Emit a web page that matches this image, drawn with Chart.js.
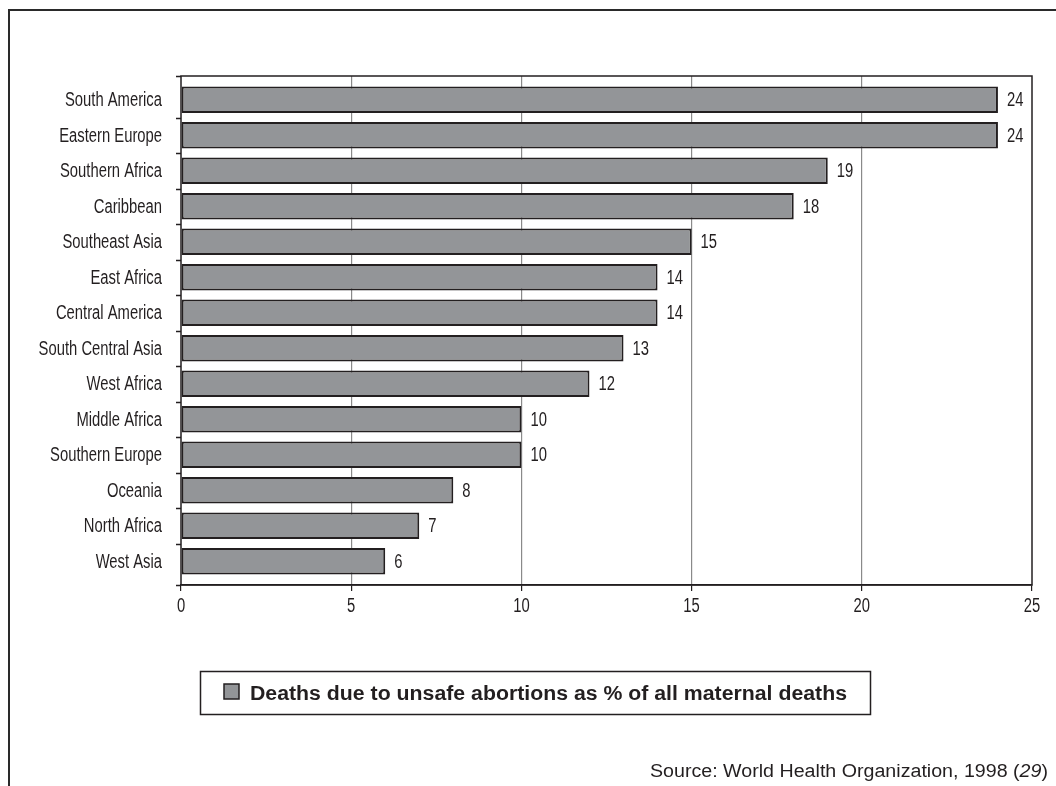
<!DOCTYPE html>
<html>
<head>
<meta charset="utf-8">
<script src="https://cdn.jsdelivr.net/npm/chart.js@4/dist/chart.umd.min.js"></script>
<style>
html,body{margin:0;padding:0;background:#fff;}
#wrap{position:relative;width:1056px;height:786px;}
canvas{display:block;}
</style>
</head>
<body>
<div id="wrap"><canvas id="c" width="1056" height="786"></canvas></div>
<script>
const categories = ["South America","Eastern Europe","Southern Africa","Caribbean","Southeast Asia","East Africa","Central America","South Central Asia","West Africa","Middle Africa","Southern Europe","Oceania","North Africa","West Asia"];
const values = [24,24,19,18,15,14,14,13,12,10,10,8,7,6];
const xTicks = [0,5,10,15,20,25];
const seriesLabel = "Deaths due to unsafe abortions as % of all maternal deaths";
const sourceText = "Source: World Health Organization, 1998 (";
const sourceRef = "29";

const DARK = '#231f20';
const FILL = '#939598';
const SANS = '"Liberation Sans", Arial, Helvetica, sans-serif';
const COND = 0.74; // horizontal squeeze to mimic a condensed face

function condText(ctx, text, x, y, size, align, sx, weight) {
  ctx.save();
  ctx.font = (weight ? weight + ' ' : '') + size + 'px ' + SANS;
  ctx.translate(x, y);
  ctx.scale(sx, 1);
  ctx.textAlign = align;
  ctx.fillText(text, 0, 0);
  ctx.restore();
}

const decor = {
  id: 'decor',
  afterLayout(chart) {
    // leave a little air above the first and below the last band, like the original
    const y = chart.scales.y;
    const a = chart.chartArea;
    y.top = a.top + 6;
    y.bottom = a.bottom - 6;
    y.height = y.bottom - y.top;
    y.configure();
  },
  beforeDraw(chart) {
    const ctx = chart.ctx;
    ctx.save();
    ctx.fillStyle = '#fff';
    ctx.fillRect(0, 0, chart.width, chart.height);
    ctx.strokeStyle = '#2a2a2a';
    ctx.lineWidth = 2;
    ctx.beginPath();
    ctx.moveTo(9, 786);
    ctx.lineTo(9, 10);
    ctx.lineTo(1056, 10);
    ctx.stroke();
    ctx.restore();
  },
  afterDraw(chart) {
    const ctx = chart.ctx;
    const a = chart.chartArea;
    const ys = chart.scales.y;
    const xs = chart.scales.x;
    ctx.save();
    // plot frame
    ctx.strokeStyle = DARK;
    ctx.lineWidth = 1.5;
    ctx.strokeRect(a.left, a.top, a.right - a.left, a.bottom - a.top);
    // y tick marks at band boundaries
    const marks = [a.top];
    for (let i = 0; i < categories.length - 1; i++) {
      marks.push((ys.getPixelForValue(i) + ys.getPixelForValue(i + 1)) / 2);
    }
    marks.push(a.bottom);
    ctx.beginPath();
    marks.forEach(m => { ctx.moveTo(a.left - 5, Math.round(m) + 0.5); ctx.lineTo(a.left, Math.round(m) + 0.5); });
    ctx.stroke();

    ctx.fillStyle = DARK;
    ctx.textBaseline = 'middle';
    // category labels
    categories.forEach((c, i) => {
      condText(ctx, c, a.left - 19, ys.getPixelForValue(i) + 1, 20, 'right', COND);
    });
    // x tick labels
    xTicks.forEach(v => {
      condText(ctx, String(v), xs.getPixelForValue(v), a.bottom + 21, 20, 'center', COND);
    });
    // value labels
    const meta = chart.getDatasetMeta(0);
    meta.data.forEach((bar, i) => {
      condText(ctx, String(values[i]), bar.x + 9, bar.y + 1, 20, 'left', COND);
    });

    // legend box
    ctx.strokeStyle = DARK;
    ctx.lineWidth = 1.5;
    ctx.strokeRect(200.5, 671.5, 670, 43);
    ctx.fillStyle = FILL;
    ctx.fillRect(224, 684, 15, 15);
    ctx.strokeRect(224, 684, 15, 15);
    ctx.fillStyle = DARK;
    ctx.textBaseline = 'alphabetic';
    ctx.font = 'bold 20px ' + SANS;
    const lw = ctx.measureText(seriesLabel).width;
    condText(ctx, seriesLabel, 250, 700, 20, 'left', 597 / lw, 'bold');

    // source line
    ctx.font = '18px ' + SANS;
    const w1 = ctx.measureText(sourceText).width;
    const w3 = ctx.measureText(')').width;
    ctx.font = 'italic 18px ' + SANS;
    const w2 = ctx.measureText(sourceRef).width;
    const total = w1 + w2 + w3;
    const sx = 398 / total;
    const x0 = 1048 - 398;
    condText(ctx, sourceText, x0, 777, 18, 'left', sx);
    condText(ctx, sourceRef, x0 + w1 * sx, 777, 18, 'left', sx, 'italic');
    condText(ctx, ')', x0 + (w1 + w2) * sx, 777, 18, 'left', sx);
    ctx.restore();
  }
};

new Chart(document.getElementById('c'), {
  type: 'bar',
  data: {
    labels: categories,
    datasets: [{
      label: seriesLabel,
      data: values,
      backgroundColor: FILL,
      borderColor: DARK,
      borderWidth: 2,
      borderSkipped: false,
      categoryPercentage: 0.74,
      barPercentage: 1.0
    }]
  },
  options: {
    indexAxis: 'y',
    responsive: false,
    animation: false,
    devicePixelRatio: 1,
    layout: { padding: { left: 0, right: 24, top: 76, bottom: 171 } },
    plugins: { legend: { display: false }, tooltip: { enabled: false } },
    scales: {
      x: {
        min: 0, max: 25,
        afterBuildTicks(scale) { scale.ticks = xTicks.map(v => ({ value: v })); },
        afterFit(scale) { scale.height = 30; },
        ticks: { display: false },
        grid: {
          color: (c) => (c.tick && (c.tick.value === 0 || c.tick.value === 25)) ? 'rgba(0,0,0,0)' : '#8a8a8a',
          lineWidth: 1.2,
          tickColor: DARK,
          tickLength: 6,
          drawTicks: true
        },
        border: { display: true, color: DARK, width: 1.5 }
      },
      y: {
        afterFit(scale) { scale.width = 181; },
        ticks: { display: false },
        grid: { display: false },
        border: { display: false }
      }
    }
  },
  plugins: [decor]
});
</script>
</body>
</html>
